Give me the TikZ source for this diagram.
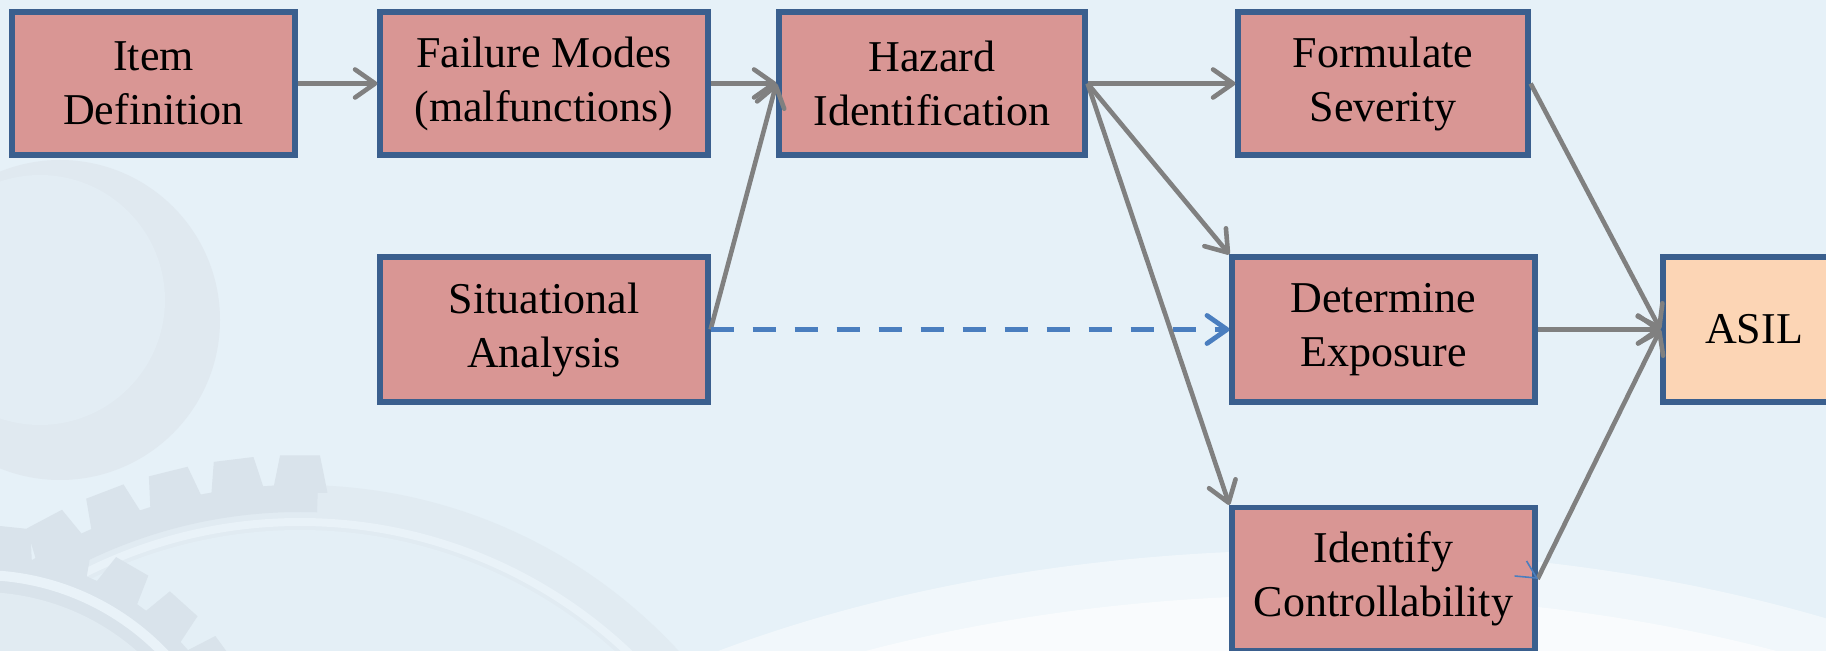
\documentclass[tikz,border=0pt]{standalone}
\usepackage{fontspec}
\setmainfont{Liberation Serif}
\usetikzlibrary{arrows.meta,calc}

\definecolor{bg}{HTML}{E6F1F8}
\definecolor{gearbody}{HTML}{E1EBF2}
\definecolor{geardark}{HTML}{D9E3EB}
\definecolor{gearlight}{HTML}{E9F2F8}
\definecolor{diskc}{HTML}{E0E9F0}
\definecolor{boxfill}{HTML}{D99694}
\definecolor{boxline}{HTML}{3A5F8E}
\definecolor{asilfill}{HTML}{FCD5B5}
\definecolor{arrowgray}{HTML}{808080}
\definecolor{blueline}{HTML}{4A7EBF}

\tikzset{
  stepbox/.style={draw=boxline, fill=boxfill, line width=2.6pt, inner sep=0pt,
    align=center, font=\fontsize{22}{27}\selectfont,
    minimum height=71.5pt},
  flow/.style={draw=arrowgray, line width=2.3pt,
    -{Straight Barb[length=10pt,width=14pt,line width=2.3pt,round]}},
  dashflow/.style={draw=blueline, line width=2.4pt, dash pattern=on 11.5pt off 9.5pt,
    -{Straight Barb[length=10pt,width=14pt,line width=2.4pt,round]}},
}

\begin{document}
\begin{tikzpicture}[x=0.5pt,y=-0.5pt]
\useasboundingbox (0,0) rectangle (1826,651);
\clip (0,0) rectangle (1826,651);

% backdrop
\fill[bg] (0,0) rectangle (1826,651);

% faint gear watermark, lower left
\fill[diskc] (60,320) circle[radius=160];
\fill[diskc!50!bg] (40,300) circle[radius=125];

\coordinate (ga) at (300,1000);
\fill[gearbody] (ga) circle[radius=515];
\fill[geardark] ($(ga)+(180:515)$) arc[start angle=180, end angle=272, radius=515]
  -- ($(ga)+(272:488)$) arc[start angle=272, end angle=180, radius=488] -- cycle;
\foreach \a in {186,193,...,270}
  \fill[geardark] ($(ga)+(\a-2.1:545)$) -- ($(ga)+(\a+2.1:545)$)
               -- ($(ga)+(\a+3.1:508)$) -- ($(ga)+(\a-3.1:508)$) -- cycle;
\draw[gearlight, line width=4pt] (ga) circle[radius=478];
\fill[gearbody!40!bg] (ga) circle[radius=470];

\coordinate (gb) at (-20,830);
\fill[geardark] (gb) circle[radius=275];
\foreach \a in {0,12,...,348}
  \fill[geardark] ($(gb)+(\a-3.5:305)$) -- ($(gb)+(\a+3.5:305)$)
               -- ($(gb)+(\a+5:272)$) -- ($(gb)+(\a-5:272)$) -- cycle;
\draw[gearlight, line width=5pt] (gb) circle[radius=255];
\fill[gearbody] (gb) circle[radius=238];

% light swoosh, lower right
\fill[white, opacity=0.45] (1321,1050) ellipse[x radius=1000, y radius=500];
\fill[white, opacity=0.6] (1321,1085) ellipse[x radius=980, y radius=490];

% process steps
\node[stepbox, minimum width=141.5pt] (item) at (153.5,83.5) {Item\\Definition};
\node[stepbox, minimum width=164pt]   (fail) at (544,83.5) {Failure Modes\\(malfunctions)};
\node[stepbox, minimum width=153pt]   (haz)  at (932,83.5) {Hazard\\Identification};
\node[stepbox, minimum width=145pt]   (sev)  at (1383,83.5) {Formulate\\Severity};
\node[stepbox, minimum width=164pt, minimum height=72.5pt] (sit) at (544,329.5) {Situational\\Analysis};
\node[stepbox, minimum width=151.5pt, minimum height=72.5pt] (exp) at (1383.5,329.5) {Determine\\Exposure};
\node[stepbox, minimum width=151.5pt] (ctrl) at (1383.5,579) {Identify\\Controllability};
\node[stepbox, fill=asilfill, minimum width=91pt, minimum height=72.5pt] (asil) at (1754,329.5) {ASIL};

% connectors
\draw[flow] (item.east) -- (fail.west);
\draw[flow] (fail.east) -- (haz.west);
\draw[flow] (sit.east) -- (haz.west);
\draw[dashflow] (sit.east) -- (exp.west);
\draw[flow] (haz.east) -- (sev.west);
\draw[flow] (haz.east) -- (exp.north west);
\draw[flow] (haz.east) -- (ctrl.north west);
\draw[flow] (sev.east) -- (asil.west);
\draw[flow] (exp.east) -- (asil.west);
\draw[flow] (ctrl.east) -- (asil.west);

% small blue barb at the controllability box
\draw[blueline, line width=0.8pt] ([shift={(-23,-3)}]ctrl.east) -- ([shift={(-1,-1)}]ctrl.east)
  -- ([shift={(-11,-18)}]ctrl.east);
\end{tikzpicture}
\end{document}
